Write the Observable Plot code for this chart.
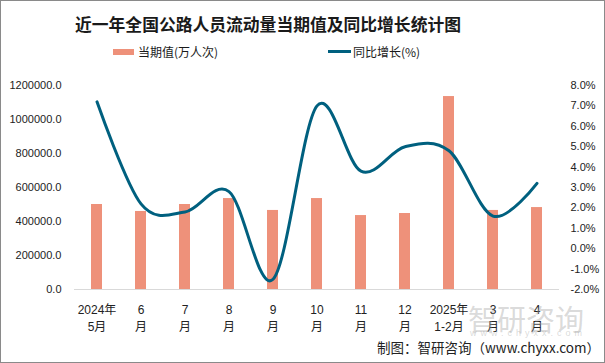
<!DOCTYPE html>
<html>
<head>
<meta charset="utf-8">
<script src="https://cdn.jsdelivr.net/npm/d3@7"></script>
<script src="https://cdn.jsdelivr.net/npm/@observablehq/plot@0.6"></script>
<style>
  body { margin: 0; background: #fff; }
  #wrap { position: relative; width: 605px; height: 363px; overflow: hidden; font-family: "Liberation Sans", "Noto Sans CJK SC", sans-serif; color: #1a1a1a; }
  #wrap svg { position: absolute; left: 0; top: 0; }
  .abs { position: absolute; white-space: nowrap; }
  #frame { position: absolute; left: 0; top: 0; width: 605px; height: 363px; box-sizing: border-box; border: 1px solid #8a8a8a; pointer-events: none; }
  #title { left: 75px; top: 12px; font-size: 16.8px; font-weight: bold; font-family: "Noto Sans CJK SC", sans-serif; }
  .legtxt { font-size: 12px; font-family: "Noto Sans CJK SC", sans-serif; top: 43px; }
  #caption { left: 377px; top: 337px; font-size: 13.5px; font-family: "Noto Sans CJK SC", sans-serif; color: #222; }
  #wm { left: 468px; top: 297px; font-size: 29px; font-family: "Noto Sans CJK SC", sans-serif; color: rgba(160,160,160,0.4); }
  #wm2 { left: 470px; top: 328px; font-size: 9px; letter-spacing: 4px; color: rgba(160,160,160,0.4); }
</style>
</head>
<body>
<div id="wrap">
  <div id="chart"></div>
  <div class="abs" id="wm">智研咨询</div>
  <div class="abs" id="wm2">www.chyxx.com</div>
  <div class="abs" id="title">近一年全国公路人员流动量当期值及同比增长统计图</div>
  <div class="abs" style="left:113px;top:49px;width:21px;height:6px;background:#EE917A"></div>
  <div class="abs legtxt" style="left:138px">当期值(万人次)</div>
  <div class="abs" style="left:328px;top:50px;width:23px;height:3px;background:#00607F"></div>
  <div class="abs legtxt" style="left:353px">同比增长(%)</div>
  <div class="abs" id="caption">制图：智研咨询（www.chyxx.com）</div>
  <div id="frame"></div>
</div>
<script>
const months = ["2024年\n5月","6\n月","7\n月","8\n月","9\n月","10\n月","11\n月","12\n月","2025年\n1-2月","3\n月","4\n月"];
const current = [500000, 459000, 500000, 535000, 465000, 535000, 435000, 447000, 1135000, 465000, 482000];
const growth = [7.2, 2.2, 1.8, 2.8, -1.5, 7.0, 3.8, 5.0, 4.8, 1.6, 3.2];
const leftTicks = [0, 200000, 400000, 600000, 800000, 1000000, 1200000];
const rightTicks = [-2, -1, 0, 1, 2, 3, 4, 5, 6, 7, 8];

const rMin = -2, rMax = 8, lMax = 1200000;
const toLeft = v => (v - rMin) / (rMax - rMin) * lMax;

const data = months.map((m, i) => ({m, v: current[i], g: growth[i]}));

const chart = Plot.plot({
  width: 605,
  height: 363,
  marginTop: 85,
  marginBottom: 74,
  marginLeft: 74,
  marginRight: 46,
  style: {background: "transparent", fontFamily: "'Liberation Sans', 'Noto Sans CJK SC', sans-serif", color: "#222"},
  x: {domain: months, paddingInner: 0.75, paddingOuter: 0.375},
  y: {domain: [0, lMax]},
  marks: [
    Plot.barY(data, {x: "m", y: "v", fill: "#EE917A"}),
    Plot.ruleY([0], {stroke: "#d9d9d9", strokeWidth: 1}),
    Plot.line(data, {x: "m", y: d => toLeft(d.g), stroke: "#00607F", strokeWidth: 3, curve: "cardinal", tension: 0}),
    Plot.axisY(leftTicks, {anchor: "left", tickSize: 0, tickPadding: 13, fontSize: 11, tickFormat: d => d.toFixed(1), label: null}),
    Plot.axisY(rightTicks.map(toLeft), {anchor: "right", tickSize: 0, tickPadding: 11, fontSize: 11, tickFormat: d => (d / lMax * (rMax - rMin) + rMin).toFixed(1) + "%", label: null}),
    Plot.axisX({tickSize: 0, tickPadding: 12, fontSize: 12, lineHeight: 1.45, label: null, fontFamily: "'Liberation Sans', 'Noto Sans CJK SC', sans-serif"})
  ]
});
document.getElementById("chart").appendChild(chart);
</script>
</body>
</html>
